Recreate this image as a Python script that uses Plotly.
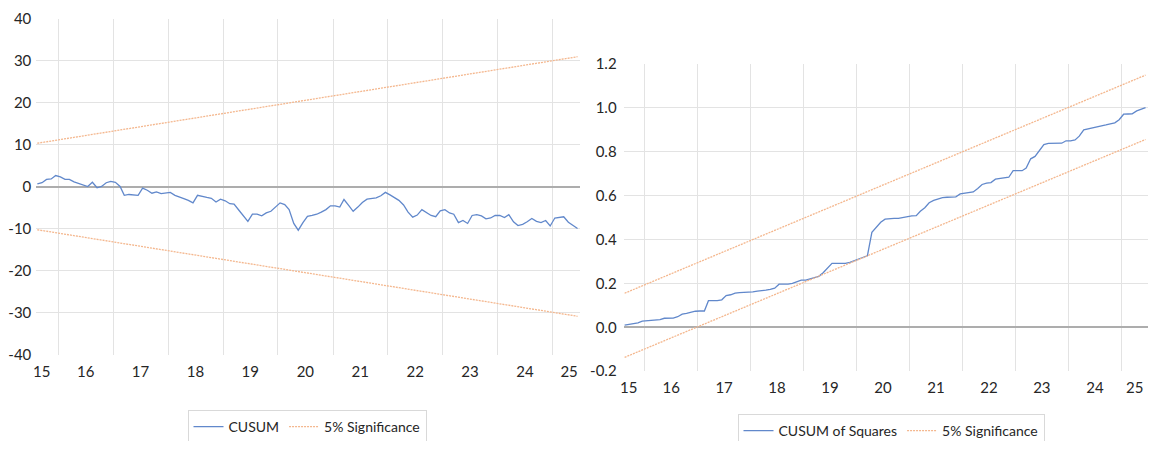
"""CUSUM and CUSUM of squares stability test charts."""
import pandas as pd
import plotly.graph_objects as go

# --- Data ---
# monthly observations (mid-month), Aug 2015 .. Jun 2025
DATES = pd.date_range("2015-08-01", "2025-06-01", freq="MS") + pd.Timedelta(days=14)

CUSUM = [
    0.6, 0.9, 1.7, 1.8, 2.6, 2.3, 1.7, 1.7, 1.1, 0.7,
    0.3, 0.0, 1.0, -0.3, 0.0, 0.9, 1.2, 1.0, 0.0, -2.1,
    -1.9, -2.0, -2.1, -0.4, -0.9, -1.6, -1.3, -1.7, -1.5, -1.4,
    -2.1, -2.4, -2.9, -3.3, -3.9, -2.1, -2.4, -2.6, -2.8, -3.7,
    -3.0, -3.4, -4.1, -4.2, -5.6, -7.0, -8.3, -6.6, -6.6, -7.0,
    -6.3, -5.9, -4.9, -3.9, -4.3, -5.5, -8.8, -10.4, -8.6, -7.1,
    -6.9, -6.6, -6.1, -5.5, -4.6, -4.6, -4.9, -3.1, -4.5, -5.9,
    -4.9, -3.8, -3.0, -2.8, -2.7, -2.2, -1.4, -2.0, -2.7, -3.3,
    -4.4, -6.1, -7.3, -6.8, -5.5, -6.2, -6.9, -7.2, -5.8, -5.5,
    -6.3, -6.6, -8.6, -8.1, -8.8, -6.9, -6.7, -7.0, -7.7, -7.5,
    -6.9, -6.9, -7.4, -6.7, -8.4, -9.3, -9.0, -8.4, -7.6, -8.3,
    -8.6, -8.1, -9.4, -7.5, -7.4, -7.2, -8.5, -9.3, -10.0,
]

CUSUM_SQ = [
    0.010, 0.013, 0.016, 0.020, 0.028, 0.030, 0.030, 0.031, 0.035, 0.041,
    0.042, 0.042, 0.048, 0.060, 0.063, 0.068, 0.073, 0.074, 0.074, 0.121,
    0.121, 0.121, 0.125, 0.144, 0.148, 0.155, 0.158, 0.159, 0.159, 0.161,
    0.165, 0.166, 0.169, 0.173, 0.178, 0.196, 0.196, 0.196, 0.200, 0.208,
    0.215, 0.215, 0.220, 0.225, 0.232, 0.248, 0.270, 0.291, 0.291, 0.291,
    0.291, 0.295, 0.303, 0.311, 0.317, 0.325, 0.432, 0.457, 0.478, 0.492,
    0.495, 0.496, 0.496, 0.500, 0.505, 0.507, 0.508, 0.528, 0.544, 0.567,
    0.578, 0.585, 0.590, 0.592, 0.592, 0.594, 0.607, 0.609, 0.612, 0.616,
    0.632, 0.650, 0.656, 0.659, 0.674, 0.677, 0.679, 0.683, 0.713, 0.713,
    0.713, 0.725, 0.767, 0.778, 0.806, 0.832, 0.837, 0.837, 0.837, 0.838,
    0.849, 0.849, 0.853, 0.870, 0.899, 0.903, 0.906, 0.911, 0.916, 0.921,
    0.926, 0.931, 0.945, 0.970, 0.971, 0.972, 0.985, 0.993, 1.000,
]

# 5% significance bounds are straight lines: values at first / last observation
SIG_DATES = [DATES[0], DATES[-1]]
CUSUM_UPPER = [10.3, 30.9]
CUSUM_LOWER = [-10.3, -30.9]
SQ_UPPER = [0.155, 1.148]
SQ_LOWER = [-0.137, 0.855]

TICK_TEXT = ["15", "16", "17", "18", "19", "20", "21", "22", "23", "24", "25"]
TICKS_LEFT = ["2015-09-13", "2016-07-01", "2017-07-01", "2018-07-01", "2019-07-01",
              "2020-07-01", "2021-07-01", "2022-07-01", "2023-07-01", "2024-07-01",
              "2025-04-20"]
TICKS_RIGHT = TICKS_LEFT[:-1] + ["2025-04-01"]

Y1_TICKS = [-40, -30, -20, -10, 0, 10, 20, 30, 40]
Y1_TEXT = ["-40", "-30", "-20", "-10", "0", "10", "20", "30", "40"]
Y2_TICKS = [-0.2, 0.0, 0.2, 0.4, 0.6, 0.8, 1.0, 1.2]
Y2_TEXT = ["-0.2", "0.0", "0.2", "0.4", "0.6", "0.8", "1.0", "1.2"]

# --- Style ---
LINE_BLUE = "#6188CB"
SIG_ORANGE = "#F4B78E"
GRID = "#E3E3E3"
ZERO = "#ADADAD"
TEXT = "#262626"
FONT = "Lato"
# the page body has an 8px margin, so the figure is 16px smaller than the window
PAGE_MARGIN = 8
W, H = 1156 - 2 * PAGE_MARGIN, 449 - 2 * PAGE_MARGIN
X_RANGE = ["2015-08-08", "2025-07-02"]


def px_x(p):
    """Window pixel x -> paper fraction."""
    return min(1.0, (p - PAGE_MARGIN) / W)


def px_y(p):
    """Window pixel y (from top) -> paper fraction."""
    return 1 - (p - PAGE_MARGIN) / H


fig = go.Figure()

fig.add_trace(go.Scatter(x=DATES, y=CUSUM, name="CUSUM", mode="lines",
                         line=dict(color=LINE_BLUE, width=1.3),
                         xaxis="x", yaxis="y", legend="legend"))
fig.add_trace(go.Scatter(x=SIG_DATES, y=CUSUM_UPPER, name="5% Significance", mode="lines",
                         line=dict(color=SIG_ORANGE, width=1.3, dash="2px,1px"),
                         xaxis="x", yaxis="y", legend="legend"))
fig.add_trace(go.Scatter(x=SIG_DATES, y=CUSUM_LOWER, name="5% Significance", mode="lines",
                         line=dict(color=SIG_ORANGE, width=1.3, dash="2px,1px"),
                         xaxis="x", yaxis="y", showlegend=False))

fig.add_trace(go.Scatter(x=DATES, y=CUSUM_SQ, name="CUSUM of Squares", mode="lines",
                         line=dict(color=LINE_BLUE, width=1.3),
                         xaxis="x2", yaxis="y2", legend="legend2"))
fig.add_trace(go.Scatter(x=SIG_DATES, y=SQ_UPPER, name="5% Significance", mode="lines",
                         line=dict(color=SIG_ORANGE, width=1.3, dash="2px,1px"),
                         xaxis="x2", yaxis="y2", legend="legend2"))
fig.add_trace(go.Scatter(x=SIG_DATES, y=SQ_LOWER, name="5% Significance", mode="lines",
                         line=dict(color=SIG_ORANGE, width=1.3, dash="2px,1px"),
                         xaxis="x2", yaxis="y2", showlegend=False))


def x_axis(domain, anchor, tickvals):
    return dict(
        domain=domain, anchor=anchor, type="date", range=X_RANGE,
        tickvals=tickvals, ticktext=TICK_TEXT,
        showgrid=False, zeroline=False, showline=False, automargin=False,
        ticks="", ticklabelstandoff=6,
        tickfont=dict(family=FONT, size=15, color=TEXT),
        minor=dict(tick0="2016-01-01", dtick="M12", showgrid=True,
                   gridcolor=GRID, gridwidth=1),
    )


def y_axis(domain, anchor, rng, tickvals, ticktext, standoff):
    return dict(
        domain=domain, anchor=anchor, range=rng,
        tickvals=tickvals, ticktext=ticktext,
        showgrid=True, gridcolor=GRID, gridwidth=1,
        zeroline=True, zerolinecolor=ZERO, zerolinewidth=1.5,
        showline=False, automargin=False, ticks="", ticklabelstandoff=standoff,
        tickfont=dict(family=FONT, size=15, color=TEXT),
    )


legend_style = dict(
    orientation="h", xanchor="center", yanchor="top",
    bordercolor="#D9D9D9", borderwidth=1, bgcolor="white",
    font=dict(family=FONT, size=14, color=TEXT), itemwidth=30,
)

fig.update_layout(
    width=W, height=H,
    margin=dict(l=0, r=0, t=0, b=0, autoexpand=False),
    paper_bgcolor="white", plot_bgcolor="white",
    xaxis=x_axis([px_x(36.3), px_x(580.1)], "y", TICKS_LEFT),
    yaxis=y_axis([px_y(354.5), px_y(18.5)], "x", [-40, 40], Y1_TICKS, Y1_TEXT, 4),
    xaxis2=x_axis([px_x(623.6), px_x(1154.1)], "y2", TICKS_RIGHT),
    yaxis2=y_axis([px_y(371.2), px_y(63.7)], "x2", [-0.2, 1.2], Y2_TICKS, Y2_TEXT, 6),
    legend=dict(x=px_x(307), y=px_y(410), **legend_style),
    legend2=dict(x=px_x(891), y=px_y(414), **legend_style),
)

fig.write_html("out.html")
